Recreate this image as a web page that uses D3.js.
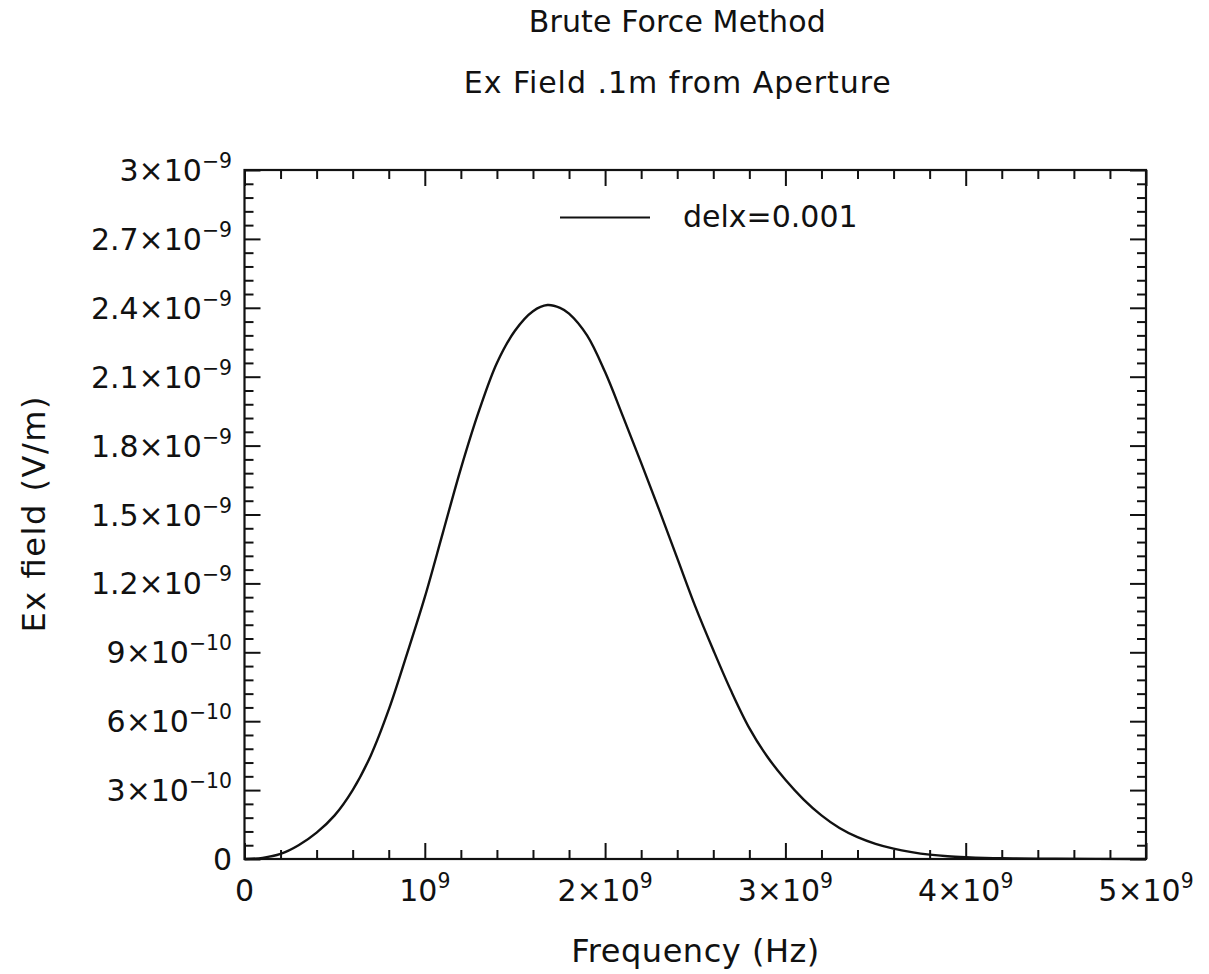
<!DOCTYPE html>
<html>
<head>
<meta charset="utf-8">
<script src="https://cdn.jsdelivr.net/npm/d3@7"></script>
<style>
  html, body { margin: 0; padding: 0; background: #fff; }
  svg { display: block; }
  text { font-family: "DejaVu Sans", sans-serif; fill: #111; }
</style>
</head>
<body>
<svg id="chart" width="1209" height="974"></svg>
<script>
// Frequency samples (GHz) and the Ex field magnitude (units of 1e-10 V/m) at 0.1 m from the aperture
const frequencyGHz = [0, 0.1, 0.2, 0.3, 0.4, 0.5, 0.6, 0.7, 0.8, 0.9, 1.0, 1.1, 1.2, 1.3, 1.4, 1.5,
  1.6, 1.68, 1.75, 1.8, 1.9, 2.0, 2.1, 2.2, 2.3, 2.4, 2.5, 2.6, 2.7, 2.8, 2.9, 3.0, 3.1, 3.2,
  3.3, 3.4, 3.5, 3.6, 3.7, 3.8, 3.9, 4.0, 4.2, 4.5, 5.0];
const exField1e10 = [0, 0.05, 0.22, 0.6, 1.15, 1.9, 3.0, 4.5, 6.5, 8.9, 11.4, 14.2, 17.0, 19.5, 21.6, 23.0,
  23.85, 24.12, 24.0, 23.75, 22.8, 21.2, 19.25, 17.25, 15.2, 13.1, 11.0, 9.1, 7.3, 5.7, 4.45, 3.45, 2.6, 1.9,
  1.35, 0.95, 0.66, 0.45, 0.3, 0.19, 0.12, 0.08, 0.03, 0.01, 0];

// Axis ticks and their labels (mantissa, exponent)
const xMajorTicks = [0, 1e9, 2e9, 3e9, 4e9, 5e9];
const xTickLabels = [["0", null], ["", "9"], ["2×", "9"], ["3×", "9"], ["4×", "9"], ["5×", "9"]];
const yMajorTicks = [0, 3e-10, 6e-10, 9e-10, 1.2e-9, 1.5e-9, 1.8e-9, 2.1e-9, 2.4e-9, 2.7e-9, 3e-9];
const yTickLabels = [["0", null], ["3×", "−10"], ["6×", "−10"], ["9×", "−10"], ["1.2×", "−9"],
  ["1.5×", "−9"], ["1.8×", "−9"], ["2.1×", "−9"], ["2.4×", "−9"], ["2.7×", "−9"], ["3×", "−9"]];
const xMinorStep = 2e8;
const yMinorStep = 6e-11;

const titleLines = ["Brute Force Method", "Ex Field .1m from Aperture"];
const xTitle = "Frequency (Hz)";
const yTitle = "Ex field (V/m)";
const seriesName = "delx=0.001";

const data = frequencyGHz.map((f, i) => ({ f: f * 1e9, v: exField1e10[i] * 1e-10 }));

const margin = { left: 244.5, right: 1146, top: 170, bottom: 859 };
const FS = 30;

const svg = d3.select("#chart");
const x = d3.scaleLinear().domain([0, 5e9]).range([margin.left, margin.right]);
const y = d3.scaleLinear().domain([0, 3e-9]).range([margin.bottom, margin.top]);

const xMinor = d3.range(0, 5e9 + 1, xMinorStep).filter(v => Math.abs(v / 1e9 - Math.round(v / 1e9)) > 1e-6);
const yMinor = d3.range(0, 3e-9 + 1e-12, yMinorStep).filter(v => Math.abs(v / 3e-10 - Math.round(v / 3e-10)) > 1e-6);

const axisStyle = g => {
  g.select(".domain").remove();
  g.selectAll(".tick line").attr("stroke", "#111").attr("stroke-width", 2);
  g.selectAll(".tick text").remove();
};

// inward-pointing ticks on all four sides
const H = margin.bottom - margin.top, W = margin.right - margin.left;
svg.append("g").attr("transform", `translate(0,${margin.bottom})`)
  .call(d3.axisBottom(x).tickValues(xMajorTicks).tickSize(-16).tickFormat("")).call(axisStyle);
svg.append("g").attr("transform", `translate(0,${margin.bottom})`)
  .call(d3.axisBottom(x).tickValues(xMinor).tickSize(-9).tickFormat("")).call(axisStyle);
svg.append("g").attr("transform", `translate(0,${margin.top})`)
  .call(d3.axisTop(x).tickValues(xMajorTicks).tickSize(-16).tickFormat("")).call(axisStyle);
svg.append("g").attr("transform", `translate(0,${margin.top})`)
  .call(d3.axisTop(x).tickValues(xMinor).tickSize(-9).tickFormat("")).call(axisStyle);
svg.append("g").attr("transform", `translate(${margin.left},0)`)
  .call(d3.axisLeft(y).tickValues(yMajorTicks).tickSize(-16).tickFormat("")).call(axisStyle);
svg.append("g").attr("transform", `translate(${margin.left},0)`)
  .call(d3.axisLeft(y).tickValues(yMinor).tickSize(-9).tickFormat("")).call(axisStyle);
svg.append("g").attr("transform", `translate(${margin.right},0)`)
  .call(d3.axisRight(y).tickValues(yMajorTicks).tickSize(-16).tickFormat("")).call(axisStyle);
svg.append("g").attr("transform", `translate(${margin.right},0)`)
  .call(d3.axisRight(y).tickValues(yMinor).tickSize(-9).tickFormat("")).call(axisStyle);

// plot frame
svg.append("rect")
  .attr("x", margin.left).attr("y", margin.top).attr("width", W).attr("height", H)
  .attr("fill", "none").attr("stroke", "#111").attr("stroke-width", 2.2);

// tick label with superscript exponent
function powerLabel(sel, mant, exp) {
  sel.append("tspan").text(exp === null ? mant : mant + "10");
  if (exp !== null) {
    sel.append("tspan").attr("dy", -13).attr("font-size", FS * 0.68).text(exp);
  }
}

xMajorTicks.forEach((t, i) => {
  const [m, e] = xTickLabels[i];
  const txt = svg.append("text").attr("x", x(t)).attr("y", 901)
    .attr("text-anchor", "middle").attr("font-size", FS);
  powerLabel(txt, m, e);
});

yMajorTicks.forEach((t, i) => {
  const [m, e] = yTickLabels[i];
  const txt = svg.append("text").attr("x", 232).attr("y", y(t) + 11)
    .attr("text-anchor", "end").attr("font-size", FS);
  powerLabel(txt, m, e);
});

// titles
const titleWidths = [297, 427];
titleLines.forEach((s, i) => {
  svg.append("text").attr("x", (margin.left + margin.right) / 2 - 18).attr("y", 32 + i * 61)
    .attr("text-anchor", "middle").attr("font-size", 30)
    .attr("textLength", titleWidths[i]).attr("lengthAdjust", "spacing").text(s);
});
svg.append("text").attr("x", (margin.left + margin.right) / 2).attr("y", 962)
  .attr("text-anchor", "middle").attr("font-size", 32)
  .attr("textLength", 248).attr("lengthAdjust", "spacing").text(xTitle);
svg.append("text")
  .attr("transform", `translate(45,${(margin.top + margin.bottom) / 2}) rotate(-90)`)
  .attr("text-anchor", "middle").attr("font-size", 32)
  .attr("textLength", 236).attr("lengthAdjust", "spacing").text(yTitle);

// data curve
const line = d3.line().x(d => x(d.f)).y(d => y(d.v)).curve(d3.curveCatmullRom.alpha(0.5));
svg.append("path").datum(data)
  .attr("d", line).attr("fill", "none").attr("stroke", "#111").attr("stroke-width", 2.4);

// legend
svg.append("line").attr("x1", 560).attr("x2", 650).attr("y1", 217.5).attr("y2", 217.5)
  .attr("stroke", "#111").attr("stroke-width", 2);
svg.append("text").attr("x", 683).attr("y", 227).attr("font-size", FS).text(seriesName);
</script>
</body>
</html>
